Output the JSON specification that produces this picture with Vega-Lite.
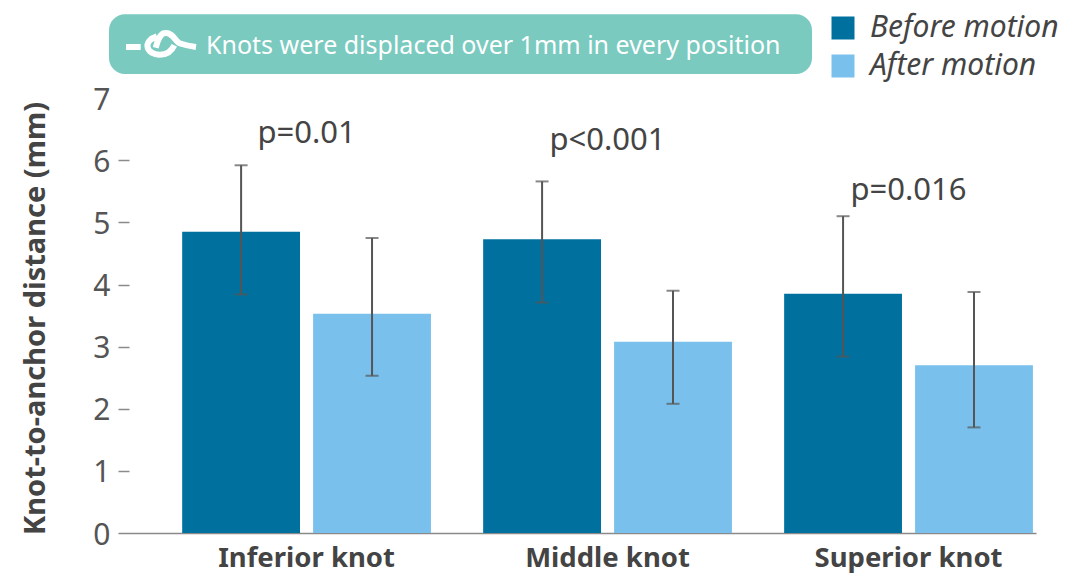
{"$schema":"https://vega.github.io/schema/vega-lite/v6.json","width":918,"height":528,"autosize":{"type":"none"},"padding":{"left":118,"top":5,"right":36,"bottom":41},"background":"white","view":{"stroke":null},"config":{"font":"Noto Sans"},
"datasets":{"bars":[
{"position":"Inferior knot","timing":"Before motion","mean":4.85,"low":3.84,"high":5.92},
{"position":"Inferior knot","timing":"After motion","mean":3.53,"low":2.53,"high":4.75},
{"position":"Middle knot","timing":"Before motion","mean":4.73,"low":3.71,"high":5.66},
{"position":"Middle knot","timing":"After motion","mean":3.08,"low":2.08,"high":3.9},
{"position":"Superior knot","timing":"Before motion","mean":3.85,"low":2.84,"high":5.1},
{"position":"Superior knot","timing":"After motion","mean":2.7,"low":1.7,"high":3.88}],
"pvals":[{"position":"Inferior knot","p":"p=0.01","level":6.43},{"position":"Middle knot","p":"p<0.001","level":6.31},{"position":"Superior knot","p":"p=0.016","level":5.51}],
"banner":[{"note":"Knots were displaced over 1mm in every position"}]},
"layer":[
{"layer":[
{"data":{"name":"bars"},"mark":{"type":"bar","strokeWidth":0},"encoding":{
"x":{"field":"position","type":"nominal","sort":["Inferior knot","Middle knot","Superior knot"],"scale":{"paddingInner":0.153,"paddingOuter":0.1015,"align":1},"axis":{"title":null,"orient":"bottom","labelAngle":0,"ticks":false,"domainColor":"#8a8a8a","domainWidth":1.5,"labelFont":"Noto Sans","labelFontWeight":"bold","labelFontSize":27.5,"labelColor":"#444444","labelPadding":11,"labelLimit":300}},
"xOffset":{"field":"timing","type":"nominal","sort":["Before motion","After motion"],"scale":{"paddingInner":0.1,"paddingOuter":0.0235}},
"y":{"field":"mean","type":"quantitative","scale":{"domain":[0,8.5],"nice":false},"axis":{"title":"Knot-to-anchor distance (mm)","titleFont":"Noto Sans","titleFontWeight":"bold","titleFontSize":29,"titleColor":"#444444","titleAngle":-90,"titleX":-68,"titleY":313,"titleAlign":"center","values":[0,1,2,3,4,5,6,7],"format":"d","grid":false,"domain":false,"tickSize":-11,"tickColor":"#8a8a8a","tickWidth":1.5,"tickOpacity":{"condition":{"test":"datum.value==7||datum.value==0","value":0},"value":1},"labelFont":"Noto Sans","labelFontSize":30,"labelColor":"#555555","labelPadding":19,"labelOffset":2}},
"color":{"field":"timing","type":"nominal","sort":["Before motion","After motion"],"scale":{"domain":["Before motion","After motion"],"range":["#00719F","#79C1EC"]},"legend":{"title":null,"orient":"none","legendX":710,"legendY":8,"symbolType":"square","symbolSize":529,"symbolStrokeWidth":0,"labelFont":"Noto Sans","labelFontStyle":"italic","labelFontSize":30,"labelColor":"#444444","labelOffset":12,"rowPadding":8,"labelLimit":300}}}},
{"data":{"name":"bars"},"mark":{"type":"rule","color":"#555555","strokeWidth":2},"encoding":{"x":{"field":"position","type":"nominal","sort":["Inferior knot","Middle knot","Superior knot"]},"xOffset":{"field":"timing","type":"nominal","sort":["Before motion","After motion"]},"y":{"field":"low","type":"quantitative"},"y2":{"field":"high"}}},
{"data":{"name":"bars"},"mark":{"type":"tick","color":"#555555","thickness":2,"size":13},"encoding":{"x":{"field":"position","type":"nominal","sort":["Inferior knot","Middle knot","Superior knot"]},"xOffset":{"field":"timing","type":"nominal","sort":["Before motion","After motion"]},"y":{"field":"low","type":"quantitative"}}},
{"data":{"name":"bars"},"mark":{"type":"tick","color":"#555555","thickness":2,"size":13},"encoding":{"x":{"field":"position","type":"nominal","sort":["Inferior knot","Middle knot","Superior knot"]},"xOffset":{"field":"timing","type":"nominal","sort":["Before motion","After motion"]},"y":{"field":"high","type":"quantitative"}}},
{"data":{"name":"pvals"},"mark":{"type":"text","fontSize":31,"color":"#444444","font":"Noto Sans","align":"center","baseline":"middle"},"encoding":{"x":{"field":"position","type":"nominal","sort":["Inferior knot","Middle knot","Superior knot"]},"y":{"field":"level","type":"quantitative"},"text":{"field":"p"}}}
]},
{"data":{"name":"banner"},"layer":[
{"mark":{"type":"rect","color":"#7ACABF","cornerRadius":16},"encoding":{"x":{"datum":-9,"type":"quantitative","scale":{"domain":[0,918],"nice":false,"zero":false},"axis":null},"x2":{"datum":694},"y":{"datum":8.35,"type":"quantitative"},"y2":{"datum":7.39}}},
{"mark":{"type":"text","color":"white","fontSize":25,"font":"Noto Sans","align":"left","baseline":"middle"},"encoding":{"x":{"datum":88,"type":"quantitative","scale":{"domain":[0,918],"nice":false,"zero":false},"axis":null},"y":{"datum":7.84,"type":"quantitative"},"text":{"field":"note"}}},
{"mark":{"type":"point","shape":"M-1,.1 L-.58,.1 M-.12,-.2 C-.3,-.15 -.42,-.02 -.38,.12 C-.33,.35 .2,.45 .38,.05 M-.15,.12 C-.1,-.1 0,-.3 .12,-.3 C.35,-.32 .4,-.05 .55,0 C.7,.05 .85,.08 1,.1","filled":false,"stroke":"white","strokeWidth":6,"size":4900,"opacity":1},"encoding":{"x":{"datum":43,"type":"quantitative","scale":{"domain":[0,918],"nice":false,"zero":false},"axis":null},"y":{"datum":7.88,"type":"quantitative"}}}
]}
],
"resolve":{"scale":{"x":"independent"}}}
